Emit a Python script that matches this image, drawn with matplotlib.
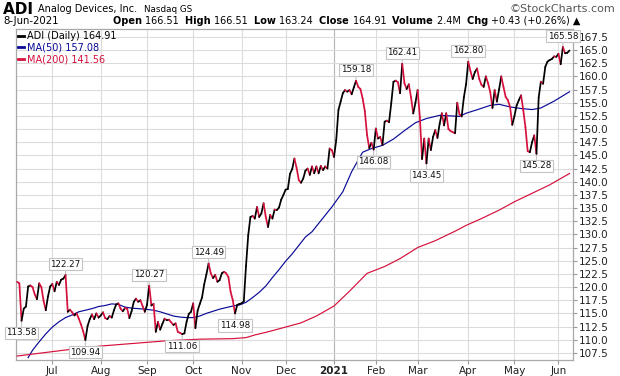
import numpy as np
import pandas as pd
import matplotlib
matplotlib.use("Agg")
import matplotlib.pyplot as plt
from matplotlib.collections import LineCollection
from matplotlib.lines import Line2D

# daily closes, 9-Jun-2020 .. 8-Jun-2021
closes = [
    121.0, 120.7, 113.58, 115.9, 116.3, 120.1, 120.3, 120.0, 118.6, 117.7,
    120.7, 120.0, 117.4, 115.6, 118.2, 120.1, 120.6, 119.2, 121.0, 120.4,
    121.4, 121.6, 122.27, 115.3, 115.7, 115.2, 114.6, 115.0, 114.0, 112.9,
    111.6, 109.94, 112.6, 113.9, 114.8, 113.9, 115.0, 114.2, 114.6, 115.2,
    114.1, 113.9, 114.5, 114.2, 115.6, 116.7, 116.9, 115.9, 115.4, 116.0,
    115.9, 114.1, 115.4, 117.2, 117.8, 117.2, 117.5, 116.4, 115.3, 116.6,
    120.27, 116.5, 116.8, 111.5, 113.4, 111.9, 113.0, 114.0, 113.7, 113.8,
    113.3, 112.8, 113.1, 111.5, 111.3, 111.06, 111.2, 113.4, 114.9, 115.3,
    116.9, 112.2, 115.5, 116.8, 118.0, 120.5, 122.4, 124.49, 122.6, 121.7,
    122.3, 121.0, 121.3, 122.6, 122.9, 122.6, 121.9, 119.1, 117.5, 114.98,
    116.6, 116.8, 116.9, 117.3, 124.0, 129.8, 133.3, 133.5, 133.0, 135.2,
    133.3, 134.0, 135.9, 133.3, 131.4, 133.7, 133.0, 134.7, 134.6, 135.1,
    136.6, 137.5, 138.5, 138.6, 141.5, 142.4, 144.4, 142.6, 140.3, 139.8,
    140.6, 142.1, 142.5, 141.3, 142.9, 141.6, 142.9, 141.6, 143.0, 142.2,
    142.9, 142.5, 146.3, 146.0, 144.7, 147.9, 153.6, 155.2, 156.8, 157.4,
    157.1, 157.4, 156.6, 157.9, 159.18, 158.0, 157.6, 155.8, 153.4, 148.9,
    146.4, 147.4, 146.08, 150.1, 148.2, 148.5, 146.95, 151.4, 151.6, 151.3,
    154.9, 158.97, 159.2, 158.9, 156.8, 162.41, 158.7, 157.6, 158.5, 156.0,
    152.96, 155.0, 157.4, 152.3, 144.3, 148.2, 143.45, 148.2, 146.0, 148.5,
    149.8, 148.3, 151.0, 153.0, 150.7, 153.0, 150.0, 149.6, 149.4, 149.2,
    155.0, 152.8, 152.4, 156.0, 158.5, 162.80, 161.0, 159.5, 160.8, 161.5,
    159.5, 158.4, 158.0, 160.0, 158.7, 157.0, 154.0, 157.4, 155.2, 157.5,
    160.0, 158.0, 156.1, 155.5, 154.2, 150.8, 152.5, 154.5, 155.5, 156.4,
    153.6, 150.3, 145.8, 145.6, 147.5, 148.8, 145.28, 156.0, 159.0, 158.6,
    161.8, 162.8, 163.1, 163.3, 163.8, 163.7, 164.3, 162.3, 165.58, 164.4,
    164.48, 164.91,
]
holidays = ["2020-07-03", "2020-09-07", "2020-11-26", "2020-12-25", "2021-01-01",
            "2021-01-18", "2021-02-15", "2021-04-02", "2021-05-31"]
dates = pd.bdate_range("2020-06-09", "2021-06-08", freq="C", holidays=holidays)

# moving averages, read at sparse trading-day positions
ma50_idx = [5, 7, 10, 13, 16, 19, 22, 25, 28, 31, 34, 37, 40, 43, 46, 49, 52, 55, 58, 62,
            65, 68, 71, 74, 77, 80, 83, 86, 89, 92, 95, 98, 101, 104, 107, 110, 113, 116,
            119, 122, 125, 128, 131, 134, 138, 143, 148, 152, 157, 161, 166, 171, 176,
            181, 186, 192, 197, 201, 204, 210, 215, 219, 224, 229, 234, 238, 244, 251]
ma50_val = [106.6, 108.0, 109.6, 111.1, 112.4, 113.4, 114.2, 114.7, 115.3, 115.6, 115.9,
            116.3, 116.5, 116.8, 116.7, 116.2, 116.0, 115.9, 115.8, 115.6, 115.3, 114.9,
            114.5, 114.3, 114.2, 114.2, 114.5, 115.0, 115.4, 115.8, 116.1, 116.4, 116.6,
            117.1, 118.0, 119.0, 120.2, 121.8, 123.3, 124.9, 126.3, 127.9, 129.5, 130.5,
            132.6, 135.2, 138.1, 141.9, 145.6, 146.3, 146.9, 148.1, 149.7, 151.2, 152.0,
            152.6, 152.5, 152.4, 153.0, 153.8, 154.5, 154.7, 154.2, 153.9, 153.7, 154.0,
            155.3, 157.08]
ma200_idx = [0, 23, 38, 53, 68, 83, 98, 104, 108, 114, 122, 129, 136, 144, 151, 159, 167,
             174, 182, 190, 199, 204, 211, 219, 226, 234, 242, 251]
ma200_val = [106.9, 108.1, 108.8, 109.3, 109.8, 110.1, 110.2, 110.4, 110.9, 111.5, 112.4,
             113.2, 114.5, 116.4, 119.2, 122.6, 123.9, 125.4, 127.5, 128.8, 130.6, 131.7,
             133.0, 134.6, 136.2, 137.8, 139.4, 141.56]

# swing labels: (day index, value, above?)
swings = [(2, 113.58, False), (22, 122.27, True), (31, 109.94, False), (60, 120.27, True),
          (75, 111.06, False), (87, 124.49, True), (99, 114.98, False), (154, 159.18, True),
          (162, 146.08, False), (175, 162.41, True), (186, 143.45, False), (205, 162.80, True),
          (236, 145.28, False), (248, 165.58, True)]

UP = "#000000"
DOWN = "#d6103c"
BLUE = "#0a0a96"
GRID = "#dcdcdc"

fig = plt.figure(figsize=(6.2, 3.76), dpi=100)
ax = fig.add_axes([0.0266, 0.0426, 0.8976, 0.8803])

x = np.arange(len(closes))
y = np.array(closes)
segs = [[(x[k - 1], y[k - 1]), (x[k], y[k])] for k in range(1, len(y))]
cols = [UP if y[k] >= y[k - 1] else DOWN for k in range(1, len(y))]
ax.add_collection(LineCollection(segs, colors=cols, linewidths=1.25, capstyle="round", zorder=4))

ax.plot(ma50_idx, ma50_val, color=BLUE, lw=0.85, zorder=3)
ax.plot(ma200_idx, ma200_val, color=DOWN, lw=0.85, zorder=3)

for i, v, above in swings:
    off = 11 if above else -12
    ax.annotate(f"{v:.2f}", (i, v), xytext=(0, off), textcoords="offset pixels",
                ha="center", va="center", fontsize=6.3, color="#111111", zorder=6,
                bbox=dict(boxstyle="square,pad=0.18", fc="white", ec="#c4c4c4", lw=0.8),
                arrowprops=dict(arrowstyle="-", color="#c4c4c4", lw=0.8, shrinkA=0, shrinkB=1))

ax.set_xlim(-0.3, 252.6)
ax.set_ylim(106.15, 169.0)

# month ticks at first trading day of each month
month_pos = [k for k in range(1, len(dates)) if dates[k].month != dates[k - 1].month]
month_lab = ["2021" if dates[k].month == 1 else dates[k].strftime("%b") for k in month_pos]
ax.set_xticks(month_pos)
ax.set_xticklabels(month_lab, fontsize=7.5, color="#222222")
for t in ax.get_xticklabels():
    if t.get_text() == "2021":
        t.set_fontweight("bold")

yt = np.arange(107.5, 167.6, 2.5)
ax.yaxis.tick_right()
ax.set_yticks(yt)
ax.set_yticklabels([f"{v:.1f}" for v in yt], fontsize=7.5, color="#222222")
ax.tick_params(axis="both", length=3, width=0.8, color="#999999", pad=1.5)

ax.grid(True, color=GRID, lw=0.8, zorder=0)
ax.set_axisbelow(True)
for gl, k in zip(ax.get_xgridlines(), month_pos):
    if dates[k].month == 1:
        gl.set_color("#b4b4b4")
for s in ax.spines.values():
    s.set_color("#a8a8a8")
    s.set_linewidth(0.9)

handles = [Line2D([], [], color=UP, lw=2), Line2D([], [], color=BLUE, lw=2),
           Line2D([], [], color=DOWN, lw=2)]
names = ["ADI (Daily) 164.91", "MA(50) 157.08", "MA(200) 141.56"]
leg = ax.legend(handles, names, loc="upper left", frameon=False, fontsize=7,
                handlelength=0.6, handletextpad=0.3, labelspacing=0.2,
                borderaxespad=0.1, borderpad=0.1, labelcolor="linecolor")
leg.set_zorder(7)

# header
fig.canvas.draw()
r = fig.canvas.get_renderer()


def run_text(xpos, ypos, parts, size):
    # lay out a row of text pieces side by side
    for txt, bold, fs in parts:
        t = fig.text(xpos, ypos, txt, fontsize=fs or size, va="center",
                     fontweight="bold" if bold else "normal")
        xpos += t.get_window_extent(renderer=r).width / fig.bbox.width
    return xpos


run_text(0.005, 0.975, [("ADI ", True, 11), ("Analog Devices, Inc.  ", False, 7.0),
                        ("Nasdaq GS", False, 6.3)], 7)
fig.text(0.993, 0.975, "\u00a9StockCharts.com", fontsize=8, va="center", ha="right", color="#555555")
fig.text(0.005, 0.945, "8-Jun-2021", fontsize=7.3, va="center")

line2 = [("Open ", True, None), ("166.51  ", False, None), ("High ", True, None),
         ("166.51  ", False, None), ("Low ", True, None), ("163.24  ", False, None),
         ("Close ", True, None), ("164.91  ", False, None), ("Volume ", True, None),
         ("2.4M  ", False, None), ("Chg ", True, None), ("+0.43 (+0.26%) \u25b2", False, None)]
run_text(0.182, 0.945, line2, 7.0)

fig.savefig("out.png", dpi=100)
